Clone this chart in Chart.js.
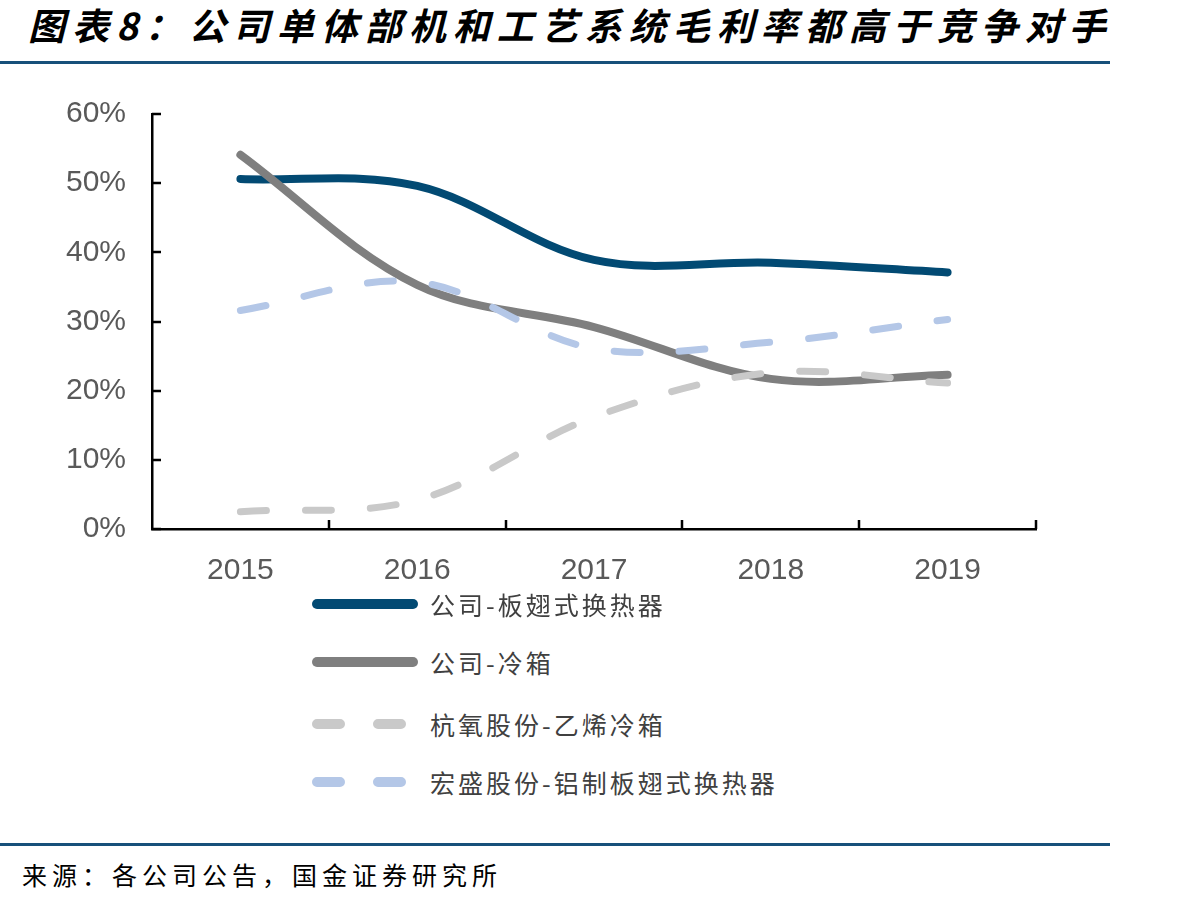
<!DOCTYPE html>
<html>
<head>
<meta charset="utf-8">
<script src="https://cdn.jsdelivr.net/npm/chart.js@4.4.1/dist/chart.umd.min.js"></script>
<style>
  html, body { margin: 0; padding: 0; background: #fff; }
  #page { position: relative; width: 1198px; height: 907px; overflow: hidden; }
  #title {
    position: absolute; left: 28px; top: -3px;
    font-family: "Noto Sans CJK SC", sans-serif; font-weight: 700; font-style: italic;
    font-size: 37px; letter-spacing: 7px; color: #000; white-space: nowrap;
  }
  .rule { position: absolute; left: 0; width: 1110px; height: 3px; background: #17507a; }
  #chartBox { position: absolute; left: 0; top: 70px; width: 1198px; height: 540px; }
  #legend { position: absolute; left: 312px; top: 580px; }
  .item { position: absolute; left: 0; height: 40px; display: flex; align-items: center; white-space: nowrap; }
  .item span {
    margin-left: 12px; font-family: "Noto Sans CJK SC", sans-serif; font-size: 25px;
    letter-spacing: 3px; color: #404040;
  }
  #source {
    position: absolute; left: 22px; top: 856px;
    font-family: "Noto Sans CJK SC", sans-serif; font-size: 25px; letter-spacing: 5px; color: #000;
  }
</style>
</head>
<body>
<div id="page">
  <div id="title">图表8：公司单体部机和工艺系统毛利率都高于竞争对手</div>
  <div class="rule" style="top:61px"></div>
  <div id="chartBox"><canvas id="marginChart"></canvas></div>
  <div id="legend"></div>
  <div class="rule" style="top:843px"></div>
  <div id="source">来源：各公司公告，国金证券研究所</div>
</div>
<script>
// years on the x axis
const years = ['2015', '2016', '2017', '2018', '2019'];

// gross margin, %
const plateFin = [50.6, 49.6, 38.9, 38.5, 37.1];      // 公司-板翅式换热器
const coldBox = [54.1, 35.3, 29.2, 21.7, 22.3];       // 公司-冷箱
const hangyang = [2.5, 4.2, 16.2, 22.6, 21.1];        // 杭氧股份-乙烯冷箱
const hongsheng = [31.6, 35.7, 26.1, 27.0, 30.3];     // 宏盛股份-铝制板翅式换热器

const yTicks = [0, 10, 20, 30, 40, 50, 60];

const seriesNames = ['公司-板翅式换热器', '公司-冷箱', '杭氧股份-乙烯冷箱', '宏盛股份-铝制板翅式换热器'];
const seriesColors = ['#024a73', '#7f7f7f', '#c9c9c9', '#b4c7e7'];

function makeSet(i, data, dashed) {
    return {
        label: seriesNames[i],
        data: data,
        borderColor: seriesColors[i],
        backgroundColor: seriesColors[i],
        borderWidth: dashed ? 7 : 8,
        borderDash: dashed ? [26, 39] : [],
        borderCapStyle: 'round',
        borderJoinStyle: 'round',
        pointRadius: 0,
        tension: 0.35,
        fill: false,
        order: dashed ? (i === 3 ? 0 : 1) : (i === 1 ? 2 : 3)
    };
}

// tick marks pointing into the plot, like the original
const innerTicks = {
    id: 'innerTicks',
    afterDraw(chart) {
        const ctx = chart.ctx;
        const x = chart.scales.x;
        const y = chart.scales.y;
        const area = chart.chartArea;
        ctx.save();
        ctx.strokeStyle = '#000';
        ctx.lineWidth = 2.5;
        ctx.beginPath();
        y.ticks.forEach((t, i) => {
            const py = Math.round(y.getPixelForTick(i));
            ctx.moveTo(area.left, py);
            ctx.lineTo(area.left + 9, py);
        });
        for (let i = 0; i < years.length; i++) {
            let px;
            if (i < years.length - 1) {
                px = (x.getPixelForTick(i) + x.getPixelForTick(i + 1)) / 2;
            } else {
                px = area.right;
            }
            px = Math.round(px);
            ctx.moveTo(px, area.bottom);
            ctx.lineTo(px, area.bottom - 9);
        }
        ctx.stroke();
        ctx.restore();
    }
};

const ctx = document.getElementById('marginChart').getContext('2d');
const chart = new Chart(ctx, {
    type: 'line',
    data: {
        labels: years,
        datasets: [
            makeSet(0, plateFin, false),
            makeSet(1, coldBox, false),
            makeSet(2, hangyang, true),
            makeSet(3, hongsheng, true)
        ]
    },
    options: {
        responsive: true,
        maintainAspectRatio: false,
        animation: false,
        layout: { padding: { top: 25, right: 162, left: 0, bottom: 0 } },
        plugins: {
            legend: { display: false },
            tooltip: { enabled: false }
        },
        scales: {
            x: {
                offset: true,
                grid: { display: false, drawTicks: false },
                border: { display: true, color: '#000', width: 2.5 },
                ticks: {
                    padding: 24,
                    color: '#595959',
                    font: { family: '"Liberation Sans", Arial, sans-serif', size: 30 }
                },
                afterFit(scale) { scale.height = 81; }
            },
            y: {
                min: 0,
                max: 60,
                afterBuildTicks(scale) { scale.ticks = yTicks.map(v => ({ value: v })); },
                grid: { display: false, drawTicks: false },
                border: { display: true, color: '#000', width: 2.5 },
                ticks: {
                    padding: 26,
                    color: '#595959',
                    font: { family: '"Liberation Sans", Arial, sans-serif', size: 30 },
                    callback: v => v + '%'
                },
                afterFit(scale) { scale.width = 152; }
            }
        }
    },
    plugins: [innerTicks]
});

// legend, one series per row
const legendBox = document.getElementById('legend');
const rowTops = [4, 62, 124, 182];
chart.data.datasets.forEach((ds, i) => {
    const row = document.createElement('div');
    row.className = 'item';
    row.style.top = rowTops[i] + 'px';
    const dash = ds.borderDash.length ? 'stroke-dasharray="23 38"' : '';
    row.innerHTML =
        '<svg width="106" height="12"><line x1="5" y1="6" x2="101" y2="6" stroke="' + ds.borderColor +
        '" stroke-width="10" stroke-linecap="round" ' + dash + '/></svg><span>' + ds.label + '</span>';
    legendBox.appendChild(row);
});
</script>
</body>
</html>
